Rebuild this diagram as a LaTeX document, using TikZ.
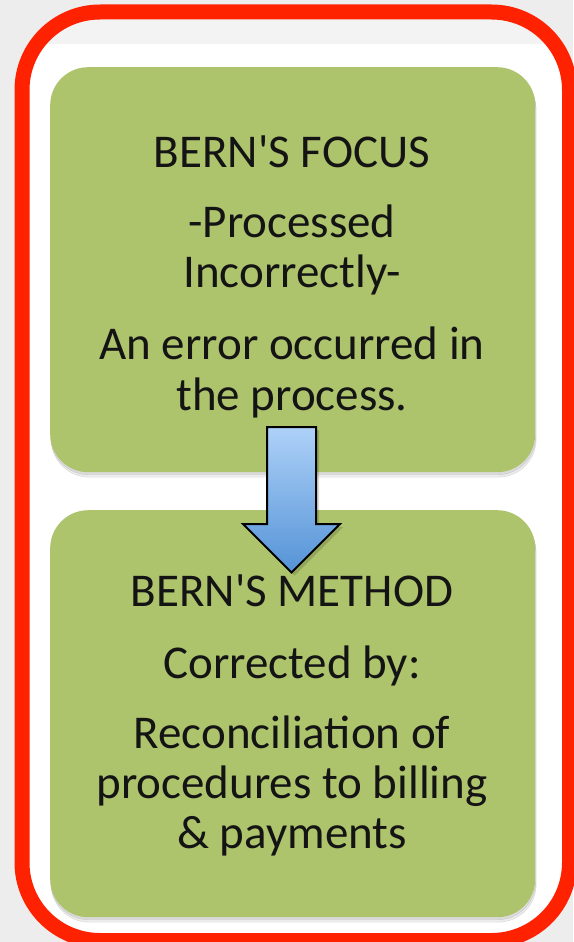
\documentclass[tikz,border=0pt]{standalone}
\usepackage{fontspec}
\newfontfamily\calib{Carlito}
\usetikzlibrary{shadows}
\definecolor{bggray}{HTML}{EDEDED}
\definecolor{framered}{HTML}{FF2200}
\definecolor{boxgreen}{HTML}{ADC36C}
\definecolor{arrtop}{HTML}{AED1F8}
\definecolor{arrbot}{HTML}{5493D6}
\begin{document}
\begin{tikzpicture}[x=1pt,y=-1pt,
  greenbox/.style={fill=boxgreen, rounded corners=38pt, inner sep=0pt, anchor=north west,
    minimum width=485pt,
    double copy shadow={shadow xshift=0.5pt,shadow yshift=-2.5pt,opacity=0.12,fill=black!60}},
  txt/.style={anchor=base, font=\calib\fontsize{47}{50}\selectfont, text=black!92, inner sep=0pt}]
\useasboundingbox (0,0) rectangle (573,942);
\fill[bggray] (0,0) rectangle (573,942);
\fill[white, rounded corners=78pt] (22,12) rectangle (569.5,940.5);
\begin{scope}
  \clip[rounded corners=78pt] (22,12) rectangle (569.5,940.5);
  \fill[bggray!70] (0,0) rectangle (573,44);
\end{scope}
\draw[framered, line width=15pt, rounded corners=78pt] (22,12) rectangle (569.5,940.5);

\node[greenbox, minimum height=405pt] (focus) at (50,67) {};
\node[greenbox, minimum height=407pt] (method) at (50,510) {};

\node[txt] (f1) at (292,167) {BERN'S FOCUS};
\node[txt] (f2) at (292,237) {-Processed};
\node[txt] (f3) at (292,287) {Incorrectly-};
\node[txt] (f4) at (292,359) {An error occurred in};
\node[txt] (f5) at (292,410) {the process.};

\draw[line width=2pt, line join=miter, top color=arrtop, bottom color=arrbot,
  drop shadow={shadow xshift=3pt,shadow yshift=-3pt,opacity=0.15,fill=black}]
  (267,427) -- (316,427) -- (316,524) -- (340,524) -- (291.5,572.5) -- (243,524) -- (267,524) -- cycle;

\node[txt] (m1) at (292,606) {BERN'S METHOD};
\node[txt] (m2) at (292,678) {Corrected by:};
\node[txt] (m3) at (292,748) {Reconciliation of};
\node[txt] (m4) at (292,798) {procedures to billing};
\node[txt] (m5) at (292,848) {\& payments};
\end{tikzpicture}
\end{document}
